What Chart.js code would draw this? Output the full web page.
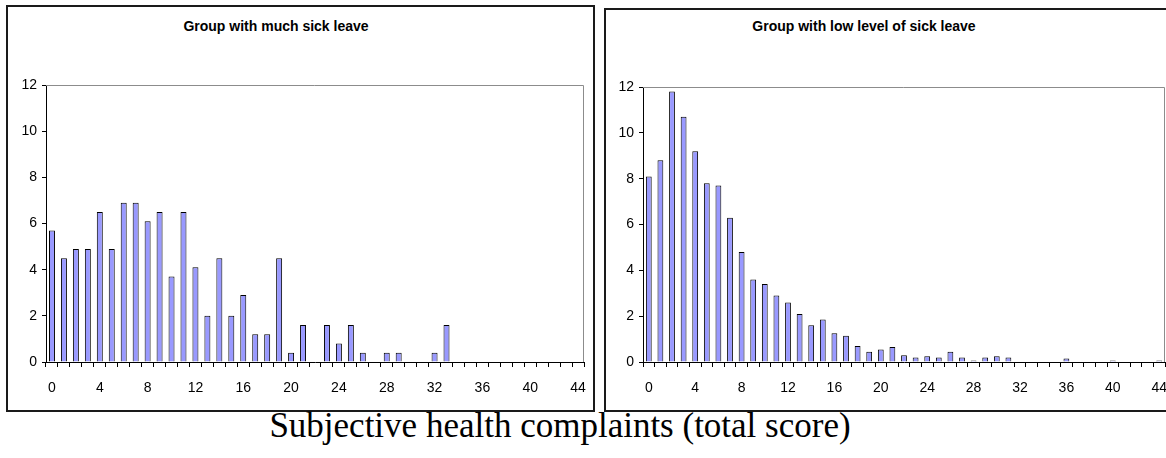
<!DOCTYPE html>
<html>
<head>
<meta charset="utf-8">
<script src="https://cdn.jsdelivr.net/npm/chart.js@4"></script>
<style>
  html, body { margin: 0; padding: 0; background: #fff; }
  body { width: 1166px; height: 458px; position: relative; overflow: hidden; }
  .frame { position: absolute; box-sizing: border-box; border: 2px solid #1a1a1a; background: #fff; }
  .ctitle { position: absolute; font-family: "Liberation Sans", Arial, sans-serif; font-weight: bold; font-size: 14px; line-height: 14px; white-space: nowrap; transform: translateX(-50%); color: #000; }
  .maintitle { position: absolute; font-family: "Liberation Serif", "Times New Roman", serif; font-size: 35px; line-height: 35px; white-space: nowrap; transform: translateX(-50%); color: #000; }
  canvas { position: absolute; }
</style>
</head>
<body>
<div class="frame" style="left:6px; top:5px; width:589px; height:407px;"></div>
<div class="frame" style="left:604px; top:8px; width:620px; height:404px;"></div>
<div class="ctitle" style="left:276px; top:19px;">Group with much sick leave</div>
<div class="ctitle" style="left:864px; top:19px;">Group with low level of sick leave</div>
<div class="maintitle" style="left:560px; top:408px;">Subjective health complaints (total score)</div>
<div id="w1" style="position:absolute; left:0px; top:0px; width:600px; height:411px;"><canvas id="c1"></canvas></div>
<div id="w2" style="position:absolute; left:600px; top:0px; width:600px; height:411px;"><canvas id="c2"></canvas></div>
<script>
const categories = ['0','1','2','3','4','5','6','7','8','9','10','11','12','13','14','15','16','17','18','19','20','21','22','23','24','25','26','27','28','29','30','31','32','33','34','35','36','37','38','39','40','41','42','43','44'];
const xTickLabels = ['0','4','8','12','16','20','24','28','32','36','40','44'];
const yTicks = [0, 2, 4, 6, 8, 10, 12];
const muchSickLeave = [5.7,4.5,4.9,4.9,6.5,4.9,6.9,6.9,6.1,6.5,3.7,6.5,4.1,2.0,4.5,2.0,2.9,1.2,1.2,4.5,0.4,1.6,0,1.6,0.8,1.6,0.4,0,0.4,0.4,0,0,0.4,1.6,0,0,0,0,0,0,0,0,0,0,0];
const lowSickLeave = [8.1,8.8,11.8,10.7,9.2,7.8,7.7,6.3,4.8,3.6,3.4,2.9,2.6,2.1,1.6,1.85,1.25,1.15,0.7,0.45,0.55,0.65,0.3,0.2,0.25,0.2,0.45,0.2,0.07,0.2,0.25,0.2,0,0,0,0,0.15,0,0,0,0.07,0,0,0,0.07];

const plotBorder = {
  id: 'plotBorder',
  beforeDatasetsDraw(chart) {
    const a = chart.chartArea, ctx = chart.ctx;
    ctx.save();
    ctx.strokeStyle = '#8c8c8c';
    ctx.lineWidth = 1;
    ctx.beginPath();
    ctx.moveTo(a.left, a.top + 0.5);
    ctx.lineTo(a.right - 0.5, a.top + 0.5);
    ctx.lineTo(a.right - 0.5, a.bottom);
    ctx.stroke();
    ctx.restore();
  }
};

function makeChart(id, data, pad) {
  return new Chart(document.getElementById(id), {
    type: 'bar',
    data: {
      labels: categories,
      datasets: [{
        data: data,
        backgroundColor: '#9999ff',
        borderColor: '#000000',
        borderWidth: 1,
        borderSkipped: 'bottom',
        barPercentage: 0.5,
        categoryPercentage: 1.0
      }]
    },
    options: {
      responsive: true,
      maintainAspectRatio: false,
      animation: false,
      devicePixelRatio: 1,
      layout: { padding: pad },
      plugins: { legend: { display: false }, title: { display: false }, tooltip: { enabled: false } },
      scales: {
        x: {
          type: 'category',
          offset: true,
          afterFit(s) { s.height = 40; },
          grid: { offset: true, drawOnChartArea: false, drawTicks: true, tickLength: 5, color: '#000', lineWidth: 1 },
          border: { display: true, color: '#000', width: 1 },
          ticks: {
            autoSkip: false, maxRotation: 0, minRotation: 0, padding: 13,
            color: '#000',
            font: { family: '"Liberation Sans", Arial, sans-serif', size: 14 },
            callback(v) { const l = categories[v]; return xTickLabels.includes(l) ? l : ''; }
          }
        },
        y: {
          min: 0, max: 12,
          afterFit(s) { s.width = 39; },
          afterBuildTicks(s) { s.ticks = yTicks.map(v => ({ value: v })); },
          grid: { drawOnChartArea: false, drawTicks: true, tickLength: 4, color: '#000', lineWidth: 1 },
          border: { display: true, color: '#000', width: 1 },
          ticks: {
            padding: 5, color: '#000',
            font: { family: '"Liberation Sans", Arial, sans-serif', size: 14 }
          }
        }
      }
    },
    plugins: [plotBorder]
  });
}

makeChart('c1', muchSickLeave, { left: 7, right: 16, top: 85, bottom: 9 });
makeChart('c2', lowSickLeave, { left: 4, right: 35, top: 87, bottom: 9 });
</script>
</body>
</html>
